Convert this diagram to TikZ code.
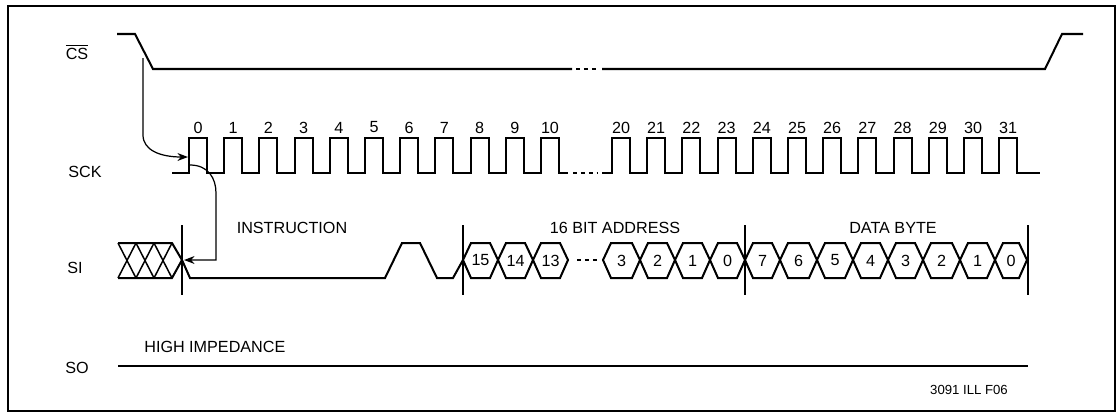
\documentclass[tikz,border=0pt]{standalone}
\usepackage{fontspec}
\setmainfont{Liberation Sans}
\usetikzlibrary{arrows.meta}
\begin{document}
\begin{tikzpicture}[x=0.02cm,y=-0.02cm,
  sig/.style={line width=1.15pt, line join=miter, line cap=butt},
  thinln/.style={line width=0.6pt},
  hatch/.style={line width=0.85pt},
  arr/.style={line width=0.7pt, -{Stealth[length=6pt,width=4.5pt]}},
  lbl/.style={font=\fontsize{9.2}{10}\selectfont, inner sep=0pt},
  small/.style={font=\fontsize{7.5}{9}\selectfont, inner sep=0pt},
  dotsln/.style={line width=1.15pt, dash pattern=on 2.5pt off 2pt}]
\useasboundingbox (0,0) rectangle (1117,414);
\draw[line width=1pt] (8,6) rectangle (1115,411);

% signal names
\node[lbl] (lcs) at (77,52) {$\overline{\mbox{CS}}$};
\node[lbl] (lsck) at (85,172) {SCK};
\node[lbl] (lsi) at (75,268) {SI};
\node[lbl] (lso) at (77,368) {SO};

% CS
\draw[sig] (117,34) -- (135,34) -- (153,69) -- (572,69);
\draw[dotsln] (576,69) -- (599,69);
\draw[sig] (602,69) -- (1045,69) -- (1062,34) -- (1083,34);

% SCK
\draw[sig] (172,173)
  \foreach \k in {0,...,10}{ -- ({189+35.2*\k},173) -- ({189+35.2*\k},138) -- ({207+35.2*\k},138) -- ({207+35.2*\k},173) }
  -- (568,173);
\draw[dotsln] (573,173) -- (598,173);
\draw[sig] (602,173)
  \foreach \k in {0,...,11}{ -- ({612+35.2*\k},173) -- ({612+35.2*\k},138) -- ({630+35.2*\k},138) -- ({630+35.2*\k},173) }
  -- (1040,173);
\foreach \k in {0,...,10}{
  \node[lbl] (n\k) at ({198+35.2*\k},127.5) {\k};
}
\foreach \k in {20,...,31}{
  \node[lbl] (n\k) at ({621+35.2*(\k-20)},127.5) {\k};
}

% SI
\draw[sig] (118,243) -- (172,243) -- (182,260) -- (190,278) -- (385,278) -- (402,243) -- (420,243) -- (437,278) -- (453,278) -- (463,260);
\draw[sig] (118,278) -- (172,278) -- (182,260);
\foreach \a in {118,136,154}{
  \draw[hatch] (\a,243) -- ({\a+18},278);
  \draw[hatch] (\a,278) -- ({\a+18},243);
}
\foreach \a/\b/\t in {463/498/15, 498/533/14, 533/568/13, 603/640/3, 640/675/2, 675/710/1, 710/745/0,
  745/780/7, 780/817/6, 817/853/5, 853/888/4, 888/923/3, 923/960/2, 960/995/1, 995/1027/0}{
  \draw[sig] (\a,260) -- ({\a+8},243) -- ({\b-8},243) -- (\b,260) -- ({\b-8},278) -- ({\a+8},278) -- cycle;
  \node[lbl] (h\a) at ({(\a+\b)/2},260.5) {\t};
}
\draw[dotsln] (577,260) -- (599,260);

% markers
\foreach \x in {182,463,745,1028}{
  \draw[thinln] (\x,225) -- (\x,295);
}

% section labels
\node[lbl] (instr) at (292,228) {INSTRUCTION};
\node[lbl] (addr) at (615,228) {16 BIT ADDRESS};
\node[lbl] (data) at (893,228) {DATA BYTE};

% SO
\draw[sig] (118,366) -- (1028,366);
\node[lbl, anchor=west] (hiz) at (144,347) {HIGH IMPEDANCE};
\node[small] (fig) at (969,390) {3091 ILL F06};

% timing arrows
\coordinate (csfall) at (143,58);
\coordinate (sck0) at (188,157);
\coordinate (sckr) at (190,165);
\coordinate (sipt) at (184,260);
\draw[arr] (csfall) -- (143,135) .. controls (143,150) and (160,157) .. (sck0);
\draw[arr] (sckr) .. controls (208,165) and (216,178) .. (216,193) -- (216,260) -- (sipt);
\end{tikzpicture}
\end{document}
